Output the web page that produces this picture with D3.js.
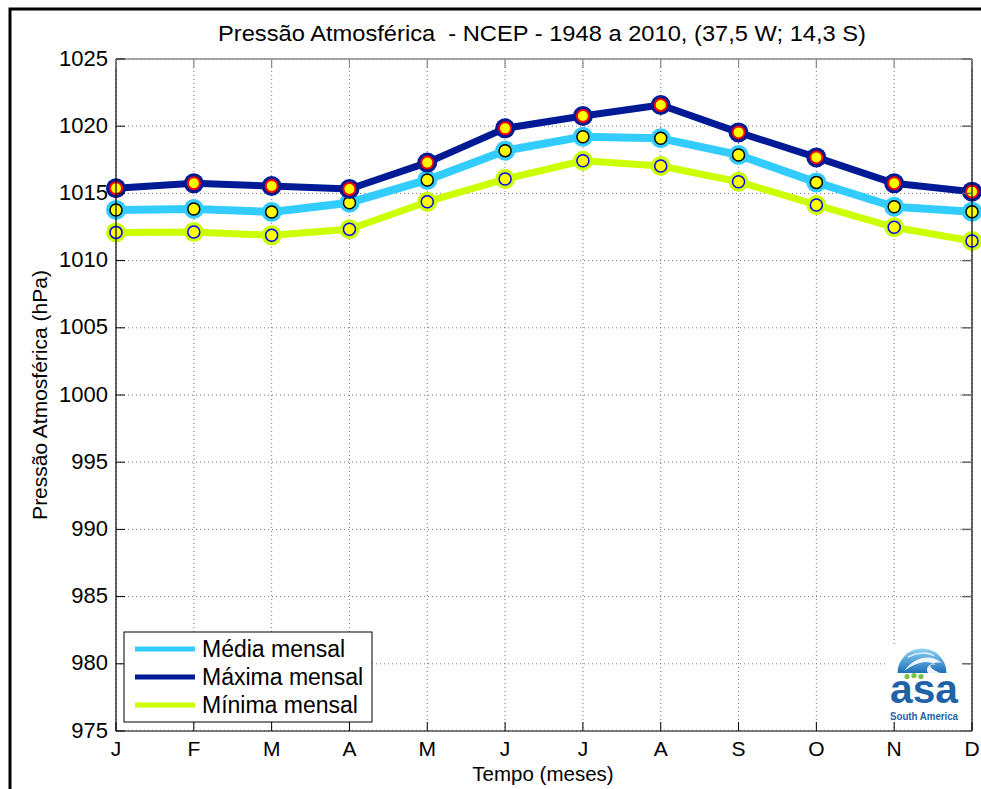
<!DOCTYPE html>
<html><head><meta charset="utf-8">
<script src="https://cdn.jsdelivr.net/npm/d3@7"></script>
<style>body{margin:0;background:#fff}svg{display:block}text{font-family:"Liberation Sans",Arial,sans-serif}</style>
</head><body>
<svg id="c" width="981" height="789"></svg>
<script>
const months = ["J","F","M","A","M","J","J","A","S","O","N","D"];
const media  = [1013.77,1013.84,1013.62,1014.31,1016.0,1018.18,1019.22,1019.1,1017.86,1015.82,1014.01,1013.64];
const maxima = [1015.38,1015.75,1015.55,1015.33,1017.29,1019.84,1020.76,1021.58,1019.54,1017.68,1015.75,1015.13];
const minima = [1012.1,1012.13,1011.88,1012.33,1014.38,1016.07,1017.43,1017.04,1015.87,1014.14,1012.48,1011.46];
const yTicks = [975,980,985,990,995,1000,1005,1010,1015,1020,1025];
const seriesNames = ["Média mensal","Máxima mensal","Mínima mensal"];

const svg = d3.select("#c");
const L=116, R=972, T=59, B=731;
const x = d3.scaleLinear().domain([0,11]).range([L,R]);
const y = d3.scaleLinear().domain([975,1025]).range([B,T]);

// outer frame
svg.append("path").attr("d","M10,789 L10,9 L981,9").attr("fill","none").attr("stroke","#000").attr("stroke-width",3);

// grid
const g = svg.append("g");
g.selectAll(".gy").data(yTicks).join("line")
  .attr("x1",L).attr("x2",R).attr("y1",d=>y(d)).attr("y2",d=>y(d))
  .attr("stroke","#777").attr("stroke-width",1).attr("stroke-dasharray","1,3");
g.selectAll(".gx").data(d3.range(12)).join("line")
  .attr("x1",d=>x(d)).attr("x2",d=>x(d)).attr("y1",T).attr("y2",B)
  .attr("stroke","#777").attr("stroke-width",1).attr("stroke-dasharray","1,3");

// logo
const logo = svg.append("g");
logo.append("rect").attr("x",885).attr("y",646).attr("width",80).attr("height",74).attr("fill","#fff");
const defs = svg.append("defs");
const grad = defs.append("linearGradient").attr("id","dome").attr("x1",0).attr("y1",0).attr("x2",0).attr("y2",1);
grad.append("stop").attr("offset","0").attr("stop-color","#8fd3f5");
grad.append("stop").attr("offset","1").attr("stop-color","#1d6fb8");
const cx=922, cy=673, r=24.5;
logo.append("path").attr("d",`M${cx-r},${cy} A${r},${r} 0 0 1 ${cx+r},${cy} Z`).attr("fill","url(#dome)");
logo.append("path").attr("d",`M${cx-18},${cy-2} C${cx-8},${cy-16} ${cx+8},${cy-20} ${cx+20},${cy-10} C${cx+10},${cy-12} ${cx+2},${cy-6} ${cx+6},${cy} L${cx+18},${cy} C${cx+8},${cy-4} ${cx+4},${cy-10} ${cx+14},${cy-8} C${cx+4},${cy-14} ${cx-6},${cy-10} ${cx-18},${cy-2} Z`).attr("fill","#fff").attr("opacity",0.9);
logo.append("path").attr("d",`M${cx-14},${cy-16} C${cx-4},${cy-21} ${cx+6},${cy-21} ${cx+12},${cy-17}`).attr("fill","none").attr("stroke","#fff").attr("stroke-width",1.5).attr("opacity",0.8);
[[907,676.5],[914,675.5],[921,676.5]].forEach(p=>logo.append("circle").attr("cx",p[0]).attr("cy",p[1]).attr("r",2.6).attr("fill","#7cc142"));
logo.append("text").attr("x",924).attr("y",703).attr("text-anchor","middle").attr("font-size",40).attr("font-weight","bold")
  .attr("fill","#1f62a8").attr("textLength",68).attr("lengthAdjust","spacingAndGlyphs").text("asa");
logo.append("text").attr("x",924).attr("y",720).attr("text-anchor","middle").attr("font-size",10).attr("font-weight","bold")
  .attr("fill","#1f62a8").attr("textLength",68).attr("lengthAdjust","spacingAndGlyphs").text("South America");

// series
const series = [
  {v:minima, line:"#ccff00", edge:"#0000ff", w:7, ew:1.5},
  {v:media,  line:"#33ccff", edge:"#000000", w:8, ew:1.5},
  {v:maxima, line:"#001a96", edge:"#ff0000", w:7, ew:2}
];
const lineGen = d3.line().x((d,i)=>x(i)).y(d=>y(d));
series.forEach(s=>{
  svg.append("path").datum(s.v).attr("d",lineGen).attr("fill","none")
    .attr("stroke",s.line).attr("stroke-width",s.w).attr("stroke-linejoin","round");
});
series.forEach(s=>{
  const mg = svg.append("g");
  mg.selectAll("circle.h").data(s.v).join("circle").attr("cx",(d,i)=>x(i)).attr("cy",d=>y(d)).attr("r",10).attr("fill",s.line);
  mg.selectAll("circle.i").data(s.v).join("circle").attr("cx",(d,i)=>x(i)).attr("cy",d=>y(d)).attr("r",6)
    .attr("fill","#ffff00").attr("stroke",s.edge).attr("stroke-width",s.ew);
});

// axes box & ticks
const ax = svg.append("g");
ax.append("line").attr("x1",L).attr("x2",R).attr("y1",T).attr("y2",T).attr("stroke","#888").attr("stroke-width",1.5);
ax.append("line").attr("x1",L).attr("x2",L).attr("y1",T).attr("y2",B).attr("stroke","#000").attr("stroke-width",1.2);
ax.append("line").attr("x1",R).attr("x2",R).attr("y1",T).attr("y2",B).attr("stroke","#000").attr("stroke-width",1.2);
ax.append("line").attr("x1",L).attr("x2",R).attr("y1",B).attr("y2",B).attr("stroke","#000").attr("stroke-width",1.2);
ax.selectAll(".tl").data(yTicks).join("line").attr("x1",L).attr("x2",L+9).attr("y1",d=>y(d)).attr("y2",d=>y(d)).attr("stroke","#000");
ax.selectAll(".tr").data(yTicks).join("line").attr("x1",R-10).attr("x2",R).attr("y1",d=>y(d)).attr("y2",d=>y(d)).attr("stroke","#666").attr("stroke-width",1.5);
ax.selectAll(".tb").data(d3.range(12)).join("line").attr("x1",d=>x(d)).attr("x2",d=>x(d)).attr("y1",B-9).attr("y2",B).attr("stroke","#000");
ax.selectAll(".tt").data(d3.range(12)).join("line").attr("x1",d=>x(d)).attr("x2",d=>x(d)).attr("y1",T).attr("y2",T+9).attr("stroke","#888").attr("stroke-width",1.2);

ax.selectAll(".yl").data(yTicks).join("text").attr("x",108).attr("y",d=>y(d)).attr("dy","0.3em")
  .attr("text-anchor","end").attr("font-size",22).attr("fill","#000").text(d=>d);
ax.selectAll(".xl").data(months).join("text").attr("x",(d,i)=>x(i)).attr("y",756)
  .attr("text-anchor","middle").attr("font-size",21).attr("fill","#000").text(d=>d);

// titles
svg.append("text").attr("x",542).attr("y",41).attr("text-anchor","middle").attr("font-size",22)
  .attr("textLength",648).attr("lengthAdjust","spacingAndGlyphs")
  .attr("xml:space","preserve").text("Pressão Atmosférica  - NCEP - 1948 a 2010, (37,5 W; 14,3 S)");
svg.append("text").attr("x",543).attr("y",781).attr("text-anchor","middle").attr("font-size",20.5).text("Tempo (meses)");
svg.append("text").attr("transform","translate(47,395) rotate(-90)").attr("text-anchor","middle").attr("font-size",21)
  .text("Pressão Atmosférica (hPa)");

// legend
const lg = svg.append("g");
lg.append("rect").attr("x",124).attr("y",632).attr("width",248).attr("height",90).attr("fill","#fff").attr("stroke","#000").attr("stroke-width",1);
const legColors = ["#33ccff","#001a96","#ccff00"];
seriesNames.forEach((n,i)=>{
  const yy = 649 + i*28;
  lg.append("line").attr("x1",135).attr("x2",195).attr("y1",yy).attr("y2",yy).attr("stroke",legColors[i]).attr("stroke-width",5);
  lg.append("text").attr("x",202).attr("y",yy).attr("dy","0.36em").attr("font-size",23).text(n);
});
</script>
</body></html>
